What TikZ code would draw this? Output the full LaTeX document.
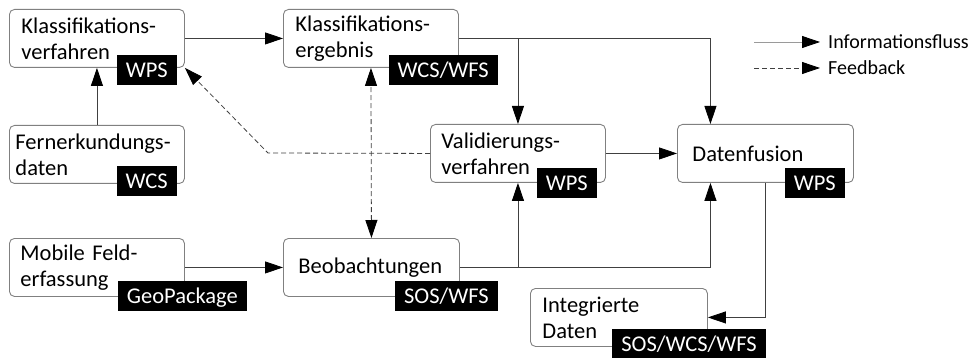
\documentclass[tikz,border=0pt]{standalone}
\usepackage{fontspec}
\setmainfont{Carlito}
\usetikzlibrary{arrows.meta}
\definecolor{boxgray}{HTML}{808080}
\definecolor{linegray}{HTML}{404040}
\definecolor{leggray}{HTML}{9A9A9A}
\begin{document}
\begin{tikzpicture}[x=1pt,y=-1pt,
  font=\fontsize{22.5}{26}\selectfont,
  box/.style={draw=boxgray, line width=0.9pt, rounded corners=5pt, minimum width=175pt, minimum height=58pt, inner xsep=12pt, inner ysep=0pt, text width=151pt, align=left, anchor=north west},
  tag/.style={fill=black, text=white, inner xsep=9pt, inner ysep=0pt, minimum height=30pt, text height=14.5pt, text depth=0pt, anchor=east},
  tip/.style={-{Triangle[length=18pt,width=12pt,color=black]}},
  tips/.style={{Triangle[length=18pt,width=12pt,color=black]}-{Triangle[length=18pt,width=12pt,color=black]}},
  flow/.style={draw=linegray, line width=0.8pt, tip},
  fb/.style={draw=linegray, line width=0.8pt, dash pattern=on 5pt off 3pt},
  leg/.style={anchor=west, inner xsep=0pt, font=\fontsize{20}{24}\selectfont}
]
\useasboundingbox (0,0) rectangle (979,358);

% boxes
\node[box] (KV) at (9,9) {Klassifikations-\\verfahren};
\node[box] (KE) at (283,9) {Klassifikations-\\ergebnis};
\node[box, inner xsep=6pt, text width=163pt] (FD) at (9,125) {Fernerkundungs-\\daten};
\node[box, inner xsep=11pt, text width=153pt] (VA) at (430,124) {Validierungs-\\verfahren};
\node[box, inner xsep=15pt, text width=146pt] (DF) at (677,124) {Datenfusion};
\node[box, inner xsep=11pt, text width=153pt] (MO) at (9,238) {Mobile Feld-\\erfassung};
\node[box, inner xsep=15pt, text width=146pt] (BE) at (283,238) {Beobachtungen};
\node[box, minimum width=177pt, text width=153pt] (IN) at (530,288) {Integrierte\\Daten};

% connectors
\draw[flow] (KV.east) -- (KE.west);
\draw[flow] (FD.north) -- (KV.south);
\draw[flow] (KE.east) -| ([xshift=-55pt]DF.north);
\draw[flow] (KE.east -| VA.north) -- (VA.north);
\draw[flow] (VA.east) -- (DF.west);
\draw[flow] (MO.east) -- (BE.west);
\draw[flow] (BE.east) -| ([xshift=-55pt]DF.south);
\draw[flow] (BE.east -| VA.south) -- (VA.south);
\draw[flow] (DF.south) |- (IN.east);
\coordinate (fbk) at (268,153);
\draw[fb, tip] (VA.west) -- (fbk) -- (KV.south east);
\draw[fb, tips] (BE.north) -- (KE.south);

% tags
\node[tag] (KVt) at (177,70) {WPS};
\node[tag] (KEt) at (498,70) {WCS/WFS};
\node[tag] (FDt) at (177,181) {WCS};
\node[tag] (VAt) at (597,183) {WPS};
\node[tag] (DFt) at (845,183) {WPS};
\node[tag] (MOt) at (247,296) {GeoPackage};
\node[tag] (BEt) at (498,296) {SOS/WFS};
\node[tag] (INt) at (766,344) {SOS/WCS/WFS};

% legend
\node[leg] (L1) at (828,42) {Informationsfluss};
\node[leg] (L2) at (828,68) {Feedback};
\coordinate (L1s) at (754,42);
\coordinate (L2s) at (754,68);
\draw[tip, draw=leggray, line width=0.8pt] (L1s) -- ([xshift=-8pt]L1.west);
\draw[fb, tip] (L2s) -- ([xshift=-8pt]L2.west);
\end{tikzpicture}
\end{document}
